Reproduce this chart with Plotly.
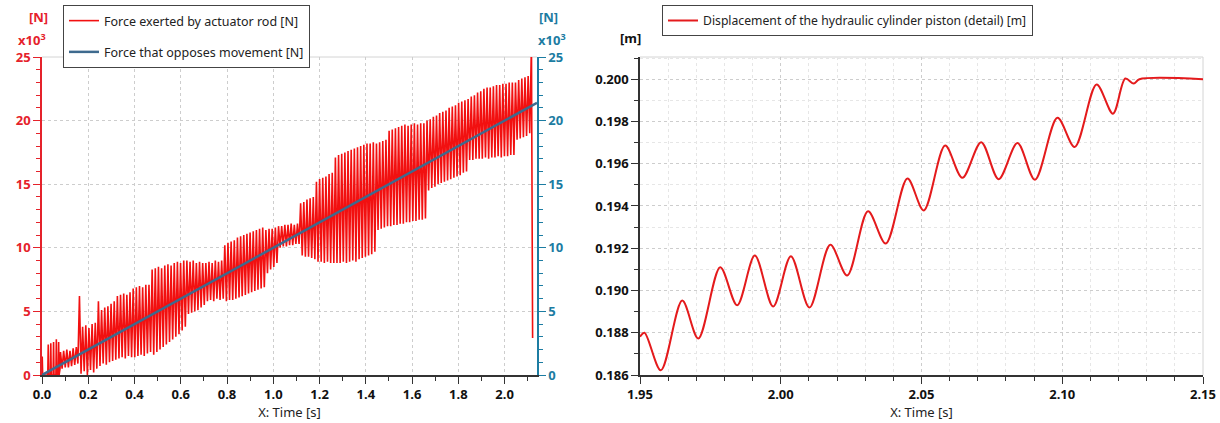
import plotly.graph_objects as go

# ---------------- data ----------------
# Left panel: force exerted by actuator rod [kN] (x10^3 N)
early_t = [0.000, 0.001, 0.003, 0.025, 0.027, 0.029, 0.036, 0.038, 0.040, 0.048, 0.050, 0.052,
           0.060, 0.062, 0.064, 0.070, 0.072, 0.074, 0.078]
early_f = [0.0, 1.45, 0.0, 0.0, 2.4, 0.0, 0.0, 2.5, 0.0, 0.0, 2.6, 0.0,
           0.0, 2.8, 0.0, 0.0, 2.6, 0.0, 0.5]

cycle_start = 0.080
cycle_period = 0.01366

cycle_peaks = (
    [1.8, 1.9, 2.0, 1.9, 2.1, 2.2]
    + [6.2, 3.8, 3.9, 3.7, 4.0, 4.1]
    + [5.8, 5.1, 5.3, 5.4, 5.6, 5.8]
    + [6.2, 6.3, 6.4, 6.3, 6.5]
    + [6.8, 6.9, 7.0, 6.9, 7.1, 7.1]
    + [8.3, 8.4, 8.5, 8.4, 8.6, 8.7, 8.6, 8.8, 8.9, 8.8, 9.0]
    + [9.0, 8.9, 9.0, 8.8, 8.9, 8.8]
    + [8.8, 8.9, 8.8, 9.0, 8.9, 9.0]
    + [10.2, 10.4, 10.5, 10.6, 10.8, 10.9, 11.0, 11.1, 11.2, 11.3, 11.4, 11.5, 11.6]
    + [11.4, 11.5, 11.5, 11.6]
    + [11.7, 11.7, 11.8, 11.8, 11.9, 11.8, 11.9]
    + [13.5, 13.6, 13.8, 13.9, 14.0]
    + [15.2, 15.4, 15.5, 15.6, 15.8, 15.9]
    + [17.1, 17.3, 17.4, 17.5, 17.6, 17.7, 17.8, 17.9, 18.0, 18.1, 18.2, 18.2, 18.3]
    + [18.2, 18.3, 18.4, 18.5]
    + [19.2, 19.3, 19.4, 19.5, 19.6, 19.7, 19.6, 19.7, 19.8, 19.7, 19.8, 19.8]
    + [20.0, 20.1, 20.3, 20.4, 20.6, 20.7, 20.8, 21.0, 21.1, 21.2, 21.4, 21.5, 21.6]
    + [21.7, 21.9, 22.0, 22.2, 22.3, 22.5, 22.6, 22.6, 22.7, 22.8, 22.8, 22.9, 22.9, 23.0, 23.0]
    + [23.0, 23.2, 23.3, 23.4, 23.5]
)
cycle_troughs = (
    [0.5, 0.6, 0.6, 0.7, 0.8, 0.9]
    + [0.1, 0.3, 0.0, 0.4, 0.2, 0.5]
    + [0.7, 0.9, 0.8, 1.0, 1.1, 1.2]
    + [1.3, 1.4, 1.3, 1.5, 1.4]
    + [1.4, 1.5, 1.6, 1.5, 1.7, 1.8]
    + [1.6, 1.8, 2.0, 2.2, 2.4, 2.6, 2.8, 3.0, 3.2, 3.5, 3.8]
    + [4.8, 4.9, 5.0, 5.1, 5.3, 5.5]
    + [5.8, 5.9, 5.8, 6.0, 5.9, 6.0]
    + [5.8, 5.9, 5.9, 6.0, 6.1, 6.2, 6.3, 6.4, 6.5, 6.6, 6.7, 6.8, 6.9]
    + [8.0, 8.3, 8.5, 8.8]
    + [10.0, 10.1, 10.1, 10.2, 10.2, 10.3, 10.3]
    + [9.4, 9.3, 9.3, 9.2, 9.1]
    + [8.9, 8.9, 8.8, 8.9, 8.8, 8.8]
    + [8.8, 8.8, 8.9, 8.8, 8.9, 9.0, 8.9, 9.1, 9.2, 9.3, 9.4, 9.5, 9.7]
    + [11.4, 11.5, 11.6, 11.7]
    + [11.7, 11.8, 11.8, 11.9, 11.9, 12.0, 12.0, 12.1, 12.1, 12.2, 12.2, 12.3]
    + [14.5, 14.7, 14.8, 15.0, 15.1, 15.2, 15.3, 15.4, 15.5, 15.6, 15.7, 15.9, 16.0]
    + [16.9, 16.9, 17.0, 17.0, 17.0, 17.1, 17.0, 17.1, 17.1, 17.2, 17.1, 17.2, 17.2, 17.3, 17.3]
    + [18.5, 18.6, 18.7, 18.8, 19.0]
)

end_t = [2.116, 2.121]
end_f = [26.0, 2.9]

# Force that opposes movement [kN]
oppose_t = [0.0, 2.14]
oppose_f = [0.0, 21.4]

# Right panel: displacement of hydraulic cylinder piston [m]
disp_t = [1.9500, 1.9516, 1.9574, 1.9650, 1.9707, 1.9785, 1.9845, 1.9908, 1.9973, 2.0036,
          2.0102, 2.0176, 2.0236, 2.0310, 2.0373, 2.0450, 2.0508, 2.0584, 2.0645, 2.0712,
          2.0774, 2.0841, 2.0903, 2.0983, 2.1044, 2.1122, 2.1180, 2.1224, 2.1254, 2.1274, 2.1500]
disp_m = [0.18781, 0.18800, 0.18622, 0.18952, 0.18773, 0.19110, 0.18930, 0.19165, 0.18924, 0.19162,
          0.18919, 0.19217, 0.19071, 0.19375, 0.19222, 0.19530, 0.19379, 0.19686, 0.19533, 0.19702,
          0.19527, 0.19698, 0.19524, 0.19817, 0.19679, 0.19975, 0.19837, 0.20003, 0.19979, 0.20000, 0.20000]

# tick labels
left_x_ticks = [0.0, 0.2, 0.4, 0.6, 0.8, 1.0, 1.2, 1.4, 1.6, 1.8, 2.0]
force_ticks = [0, 5, 10, 15, 20, 25]
right_x_ticks = [1.95, 2.00, 2.05, 2.10, 2.15]
disp_ticks = [0.186, 0.188, 0.190, 0.192, 0.194, 0.196, 0.198, 0.200]

# ---------------- build force trace ----------------
force_t = list(early_t)
force_f = list(early_f)
for i, (pk, tr) in enumerate(zip(cycle_peaks, cycle_troughs)):
    force_t.append(cycle_start + i * cycle_period)
    force_f.append(pk)
    force_t.append(cycle_start + (i + 0.5) * cycle_period)
    force_f.append(tr)
force_t += end_t
force_f += end_f

# ---------------- styling ----------------
W, H = 1220, 423
MT, MB = 57, 48
PH = H - MT - MB


def px(x):
    return x / W


def py(y):
    return (H - MB - y) / PH


FONT = "Noto Sans"
RED = "#f21010"
RED_AX = "#e5222b"
TEAL = "#1c7ca2"
BLUE = "#3e6a8e"
DARK = "#333333"
GRID = "#cdcdcd"
GRID_MINOR = "#e6e6e6"

fig = go.Figure()
fig.add_trace(go.Scatter(x=force_t, y=force_f, mode="lines",
                         line=dict(color=RED, width=1.6),
                         name="Force exerted by actuator rod [N]",
                         xaxis="x", yaxis="y", legend="legend", legendgroup="a"))
fig.add_trace(go.Scatter(x=oppose_t, y=oppose_f, mode="lines",
                         line=dict(color=BLUE, width=2.5),
                         name="Force that opposes movement [N]",
                         xaxis="x", yaxis="y2", legend="legend", legendgroup="b"))
fig.add_trace(go.Scatter(x=disp_t, y=disp_m, mode="lines",
                         line=dict(color="#e41a1c", width=2, shape="spline", smoothing=0.9),
                         name="Displacement of the hydraulic cylinder piston (detail) [m]",
                         xaxis="x2", yaxis="y3", legend="legend2"))

tickfont_dark = dict(family=FONT, size=13, color="#111111", weight="bold")

common_x = dict(showline=True, linecolor=DARK, linewidth=1.5, ticks="outside", ticklen=7,
                tickwidth=1.3, tickcolor=DARK, zeroline=False, showgrid=True, automargin=False,
                gridcolor=GRID, griddash="dot", gridwidth=1, tickfont=tickfont_dark,
                ticklabeloverflow="allow",
                title=dict(text="X: Time [s]", font=dict(family=FONT, size=13, color="#222222"),
                           standoff=2))

fig.update_layout(
    width=W, height=H,
    margin=dict(l=0, r=0, t=MT, b=MB, autoexpand=False),
    plot_bgcolor="white", paper_bgcolor="white",
    font=dict(family=FONT, size=13, color="#222222"),
    xaxis=dict(domain=[px(42), px(537)], range=[0, 2.14], anchor="y",
               tickvals=left_x_ticks, ticktext=[f"{v:.1f}" for v in left_x_ticks],
               minor=dict(dtick=0.1, tick0=0, ticks="outside", ticklen=4, tickcolor=DARK,
                          showgrid=False),
               **common_x),
    yaxis=dict(domain=[0, 1], range=[0, 25], anchor="x", tickvals=force_ticks,
               showline=True, automargin=False,
               linecolor=RED_AX, linewidth=1.5, ticks="outside", ticklen=7, tickwidth=1.3,
               tickcolor=RED_AX, zeroline=False, showgrid=True, gridcolor=GRID, griddash="dot",
               tickfont=dict(family=FONT, size=13, color=RED_AX, weight="bold"),
               minor=dict(dtick=1, tick0=0, ticks="outside", ticklen=4, tickcolor=RED_AX,
                          showgrid=False)),
    yaxis2=dict(range=[0, 25], overlaying="y", side="right", anchor="x", tickvals=force_ticks,
                automargin=False,
                showline=True, linecolor=TEAL, linewidth=1.5, ticks="outside", ticklen=7,
                tickwidth=1.3, tickcolor=TEAL, zeroline=False, showgrid=False,
                tickfont=dict(family=FONT, size=13, color=TEAL, weight="bold"),
                minor=dict(dtick=1, tick0=0, ticks="outside", ticklen=4, tickcolor=TEAL)),
    xaxis2=dict(domain=[px(640), px(1203)], range=[1.95, 2.15], anchor="y3",
                tickvals=right_x_ticks, ticktext=[f"{v:.2f}" for v in right_x_ticks],
                minor=dict(dtick=0.01, tick0=1.95, ticks="outside", ticklen=4, tickcolor=DARK,
                           showgrid=True, gridcolor=GRID_MINOR, griddash="dot"),
                **common_x),
    yaxis3=dict(domain=[0, 1], range=[0.186, 0.20105], anchor="x2",
                tickvals=disp_ticks, ticktext=[f"{v:.3f}" for v in disp_ticks],
                showline=True, linecolor=DARK, linewidth=1.5, ticks="outside",
                ticklen=7, tickwidth=1.3, tickcolor=DARK, zeroline=False, showgrid=True,
                gridcolor=GRID, griddash="dot", tickfont=tickfont_dark, automargin=False,
                minor=dict(dtick=0.001, tick0=0.186, ticks="outside", ticklen=4, tickcolor=DARK,
                           showgrid=True, gridcolor=GRID_MINOR, griddash="dot")),
    legend=dict(x=px(63), y=py(5), xanchor="left", yanchor="top", bgcolor="white",
                bordercolor="#444444", borderwidth=1, font=dict(family=FONT, size=12.5, color="#222222"),
                tracegroupgap=12, itemwidth=30),
    legend2=dict(x=px(662), y=py(5), xanchor="left", yanchor="top", bgcolor="white",
                 bordercolor="#444444", borderwidth=1, font=dict(family=FONT, size=12.2, color="#222222"),
                 itemwidth=30),
    showlegend=True,
)

# light frame lines (top of both panels, right of right panel)
frame = "#d4d4d4"
fig.add_shape(type="line", xref="x domain", yref="y domain", x0=0, x1=1, y0=1, y1=1,
              line=dict(color=frame, width=1), layer="below")
fig.add_shape(type="line", xref="x2 domain", yref="y3 domain", x0=0, x1=1, y0=1, y1=1,
              line=dict(color=frame, width=1), layer="below")
fig.add_shape(type="line", xref="x2 domain", yref="y3 domain", x0=1, x1=1, y0=0, y1=1,
              line=dict(color=frame, width=1), layer="below")
# separator between legend entries
fig.add_shape(type="line", xref="paper", yref="paper", x0=px(65), x1=px(297), y0=py(33), y1=py(33),
              line=dict(color="#bbbbbb", width=1), layer="above")

# axis unit labels
bold = dict(family=FONT, size=13, weight="bold")
for text, xx, yy, col in [("[N]", 38, 17, RED_AX), ("x10<sup>3</sup>", 32, 40, RED_AX),
                          ("[N]", 548, 17, TEAL), ("x10<sup>3</sup>", 552, 40, TEAL),
                          ("[m]", 630, 38, "#111111")]:
    fig.add_annotation(x=px(xx), y=py(yy), xref="paper", yref="paper", text=text,
                       showarrow=False, xanchor="center", yanchor="middle",
                       font=dict(color=col, **bold))

fig.write_html("out.html", config={"displayModeBar": False},
               post_script="document.body.style.margin='0';document.body.style.overflow='hidden';")
